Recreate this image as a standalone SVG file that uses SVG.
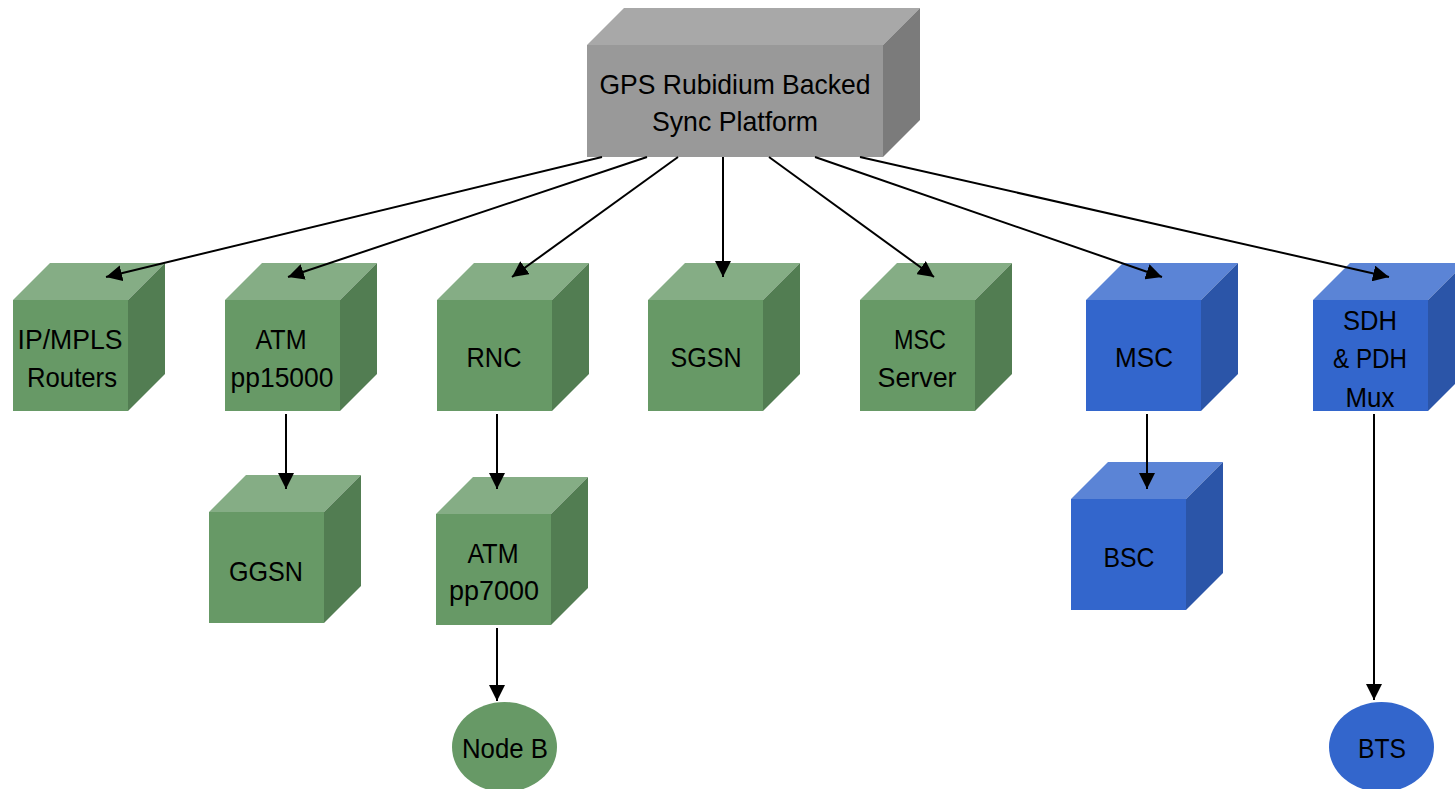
<svg xmlns="http://www.w3.org/2000/svg" width="1455" height="789" viewBox="0 0 1455 789">
<style>
  text { font-family: "Liberation Sans", Arial, sans-serif; font-size: 28px; fill: #000; text-anchor: middle; }
  .g .top { fill: #85ad85; } .g .front { fill: #679966; } .g .side { fill: #527d52; }
  .b .top { fill: #5b84d6; } .b .front { fill: #3366cc; } .b .side { fill: #2b55a8; }
  .k .top { fill: #a8a8a8; } .k .front { fill: #999999; } .k .side { fill: #7b7b7b; }
  .conn line { stroke: #000; stroke-width: 2; marker-end: url(#arr); }
</style>
<defs>
  <marker id="arr" markerUnits="userSpaceOnUse" markerWidth="16" markerHeight="16" refX="16" refY="8" orient="auto">
    <path d="M0,0 L16,8 L0,16 z" fill="#000"/>
  </marker>
</defs>
<rect width="1455" height="789" fill="#fff"/>

<g id="gps" class="k">
  <polygon class="top" points="587,45 624,8 920,8 883,45"/>
  <polygon class="side" points="883,45 920,8 920,120 883,157"/>
  <rect class="front" x="587" y="45" width="296" height="112"/>
  <text x="735" y="94" textLength="271" lengthAdjust="spacingAndGlyphs">GPS Rubidium Backed</text>
  <text x="735" y="131" textLength="166" lengthAdjust="spacingAndGlyphs">Sync Platform</text>
</g>

<g id="ipmpls" class="g">
  <polygon class="top" points="13,300 50,263 165,263 128,300"/>
  <polygon class="side" points="128,300 165,263 165,374 128,411"/>
  <rect class="front" x="13" y="300" width="115" height="111"/>
  <text x="70" y="349" textLength="105" lengthAdjust="spacingAndGlyphs">IP/MPLS</text>
  <text x="72" y="387" textLength="90" lengthAdjust="spacingAndGlyphs">Routers</text>
</g>

<g id="atm15000" class="g">
  <polygon class="top" points="225,300 262,263 377,263 340,300"/>
  <polygon class="side" points="340,300 377,263 377,374 340,411"/>
  <rect class="front" x="225" y="300" width="115" height="111"/>
  <text x="281" y="349" textLength="51" lengthAdjust="spacingAndGlyphs">ATM</text>
  <text x="282" y="387" textLength="103" lengthAdjust="spacingAndGlyphs">pp15000</text>
</g>

<g id="rnc" class="g">
  <polygon class="top" points="437,300 474,263 589,263 552,300"/>
  <polygon class="side" points="552,300 589,263 589,374 552,411"/>
  <rect class="front" x="437" y="300" width="115" height="111"/>
  <text x="494" y="367" textLength="55" lengthAdjust="spacingAndGlyphs">RNC</text>
</g>

<g id="sgsn" class="g">
  <polygon class="top" points="648,300 685,263 800,263 763,300"/>
  <polygon class="side" points="763,300 800,263 800,374 763,411"/>
  <rect class="front" x="648" y="300" width="115" height="111"/>
  <text x="706" y="367" textLength="71" lengthAdjust="spacingAndGlyphs">SGSN</text>
</g>

<g id="mscserver" class="g">
  <polygon class="top" points="860,300 897,263 1012,263 975,300"/>
  <polygon class="side" points="975,300 1012,263 1012,374 975,411"/>
  <rect class="front" x="860" y="300" width="115" height="111"/>
  <text x="920" y="349" textLength="52" lengthAdjust="spacingAndGlyphs">MSC</text>
  <text x="917" y="387" textLength="79" lengthAdjust="spacingAndGlyphs">Server</text>
</g>

<g id="msc" class="b">
  <polygon class="top" points="1086,300 1123,263 1238,263 1201,300"/>
  <polygon class="side" points="1201,300 1238,263 1238,374 1201,411"/>
  <rect class="front" x="1086" y="300" width="115" height="111"/>
  <text x="1144" y="367" textLength="58" lengthAdjust="spacingAndGlyphs">MSC</text>
</g>

<g id="sdh" class="b">
  <polygon class="top" points="1313,300 1350,263 1465,263 1428,300"/>
  <polygon class="side" points="1428,300 1465,263 1465,374 1428,411"/>
  <rect class="front" x="1313" y="300" width="115" height="111"/>
  <text x="1370" y="330" textLength="54" lengthAdjust="spacingAndGlyphs">SDH</text>
  <text x="1370" y="368" textLength="74" lengthAdjust="spacingAndGlyphs">&amp; PDH</text>
  <text x="1370" y="407" textLength="49" lengthAdjust="spacingAndGlyphs">Mux</text>
</g>

<g id="ggsn" class="g">
  <polygon class="top" points="209,512 246,475 361,475 324,512"/>
  <polygon class="side" points="324,512 361,475 361,586 324,623"/>
  <rect class="front" x="209" y="512" width="115" height="111"/>
  <text x="266" y="581" textLength="74" lengthAdjust="spacingAndGlyphs">GGSN</text>
</g>

<g id="atm7000" class="g">
  <polygon class="top" points="436,514 473,477 588,477 551,514"/>
  <polygon class="side" points="551,514 588,477 588,588 551,625"/>
  <rect class="front" x="436" y="514" width="115" height="111"/>
  <text x="493" y="563" textLength="51" lengthAdjust="spacingAndGlyphs">ATM</text>
  <text x="494" y="600" textLength="90" lengthAdjust="spacingAndGlyphs">pp7000</text>
</g>

<g id="bsc" class="b">
  <polygon class="top" points="1071,499 1108,462 1223,462 1186,499"/>
  <polygon class="side" points="1186,499 1223,462 1223,573 1186,610"/>
  <rect class="front" x="1071" y="499" width="115" height="111"/>
  <text x="1129" y="567" textLength="51" lengthAdjust="spacingAndGlyphs">BSC</text>
</g>

<g id="nodeb">
  <ellipse cx="504.5" cy="747" rx="52.5" ry="45" fill="#679966"/>
  <text x="505" y="758" textLength="86" lengthAdjust="spacingAndGlyphs">Node B</text>
</g>

<g id="bts">
  <ellipse cx="1381.5" cy="747" rx="52.5" ry="45" fill="#3366cc"/>
  <text x="1382" y="758" textLength="48" lengthAdjust="spacingAndGlyphs">BTS</text>
</g>

<g id="connectors" class="conn">
  <line x1="602" y1="157" x2="106" y2="277"/>
  <line x1="647" y1="157" x2="288" y2="277"/>
  <line x1="678" y1="157" x2="512" y2="277"/>
  <line x1="723" y1="157" x2="723" y2="277"/>
  <line x1="769" y1="157" x2="934" y2="277"/>
  <line x1="815" y1="157" x2="1162" y2="277"/>
  <line x1="860" y1="157" x2="1389" y2="277"/>
  <line x1="286" y1="414" x2="286" y2="489"/>
  <line x1="497" y1="414" x2="497" y2="489"/>
  <line x1="497" y1="628" x2="497" y2="701"/>
  <line x1="1147" y1="414" x2="1147" y2="489"/>
  <line x1="1374" y1="414" x2="1374" y2="700"/>
</g>
</svg>
